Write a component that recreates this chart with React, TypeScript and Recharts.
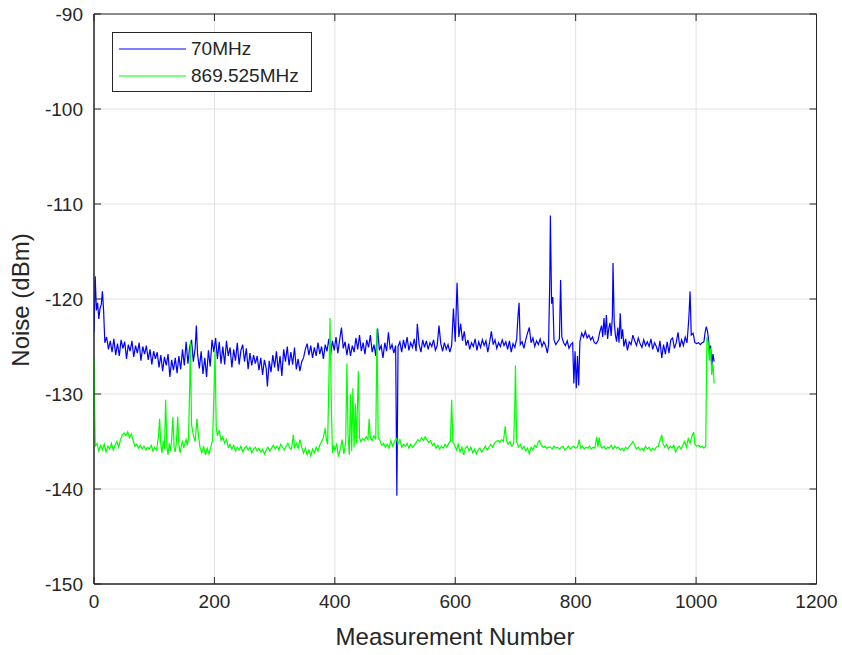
import React from 'react';
import { LineChart, Line, XAxis, YAxis, CartesianGrid, ReferenceArea } from 'recharts';

// [measurement number, noise dBm]
const noise70MHz: [number, number][] = [
  [0,-123.5],[2,-117.6],[4,-121.2],[6,-120.4],[8,-122.1],[10,-121.0],[12,-120.6],[14,-119.2],[16,-121.3],[18,-124.6],
  [21,-124.0],[24,-125.3],[27,-124.4],[30,-125.6],[33,-124.2],[36,-125.9],[39,-124.7],[42,-126.0],[45,-124.3],[48,-125.2],
  [51,-124.5],[54,-126.3],[57,-124.8],[60,-125.5],[63,-124.4],[66,-126.1],[69,-124.9],[72,-125.7],[75,-124.6],[78,-126.5],
  [81,-125.0],[84,-125.8],[87,-124.9],[90,-126.4],[93,-125.3],[96,-126.9],[99,-125.5],[102,-126.3],[105,-125.6],[108,-127.2],
  [111,-125.9],[114,-127.6],[117,-126.1],[120,-127.0],[123,-125.8],[126,-128.2],[129,-126.4],[132,-127.5],[135,-126.2],[138,-127.8],
  [141,-126.0],[144,-127.4],[147,-125.3],[150,-127.0],[153,-124.5],[156,-126.8],[159,-125.0],[162,-124.3],[165,-126.6],[168,-125.2],
  [170,-122.8],[172,-125.8],[175,-127.3],[178,-125.5],[181,-127.9],[184,-126.2],[187,-128.2],[190,-125.4],[193,-127.1],[196,-124.3],
  [199,-125.6],[202,-124.1],[205,-126.3],[208,-124.5],[211,-126.8],[214,-125.0],[217,-126.9],[220,-124.4],[223,-126.0],[226,-125.1],
  [229,-127.2],[232,-125.3],[235,-126.5],[238,-124.6],[241,-126.9],[244,-125.4],[247,-124.8],[250,-126.6],[253,-125.2],[256,-127.4],
  [259,-125.7],[262,-127.0],[265,-125.9],[268,-126.8],[271,-126.0],[274,-127.5],[277,-126.2],[280,-128.0],[283,-126.4],[286,-127.3],
  [288,-129.2],[291,-126.5],[294,-127.7],[297,-125.9],[300,-127.2],[303,-125.5],[306,-127.6],[309,-126.0],[312,-128.1],[315,-125.3],
  [318,-126.6],[321,-125.0],[324,-127.0],[327,-125.6],[330,-126.9],[333,-125.1],[336,-127.4],[339,-126.3],[342,-127.6],[345,-126.6],
  [348,-126.2],[351,-125.3],[354,-124.7],[357,-125.9],[360,-124.9],[363,-126.2],[366,-125.1],[369,-126.0],[372,-124.6],[375,-125.8],
  [378,-125.0],[381,-126.3],[384,-124.8],[387,-125.5],[390,-124.2],[393,-125.9],[396,-124.4],[399,-125.4],[402,-124.0],[405,-125.7],
  [408,-124.3],[411,-123.0],[414,-125.2],[417,-124.5],[420,-125.9],[423,-124.7],[426,-126.0],[429,-124.9],[432,-125.6],[435,-124.1],
  [438,-125.3],[441,-123.8],[444,-125.5],[447,-124.6],[450,-125.8],[453,-124.3],[456,-125.1],[459,-123.8],[462,-125.6],[465,-124.8],
  [468,-126.0],[471,-123.1],[474,-125.4],[477,-124.9],[480,-126.2],[483,-124.6],[486,-125.5],[489,-123.5],[492,-125.3],[495,-124.8],
  [498,-125.7],[501,-124.9],[503,-140.7],[505,-125.0],[508,-124.5],[511,-125.6],[514,-124.3],[517,-125.2],[520,-124.0],[523,-125.4],
  [526,-124.6],[529,-125.1],[532,-124.2],[535,-125.5],[537,-122.6],[540,-124.8],[543,-125.6],[546,-124.3],[549,-125.1],[552,-124.4],
  [555,-125.3],[558,-124.6],[561,-125.0],[564,-124.3],[567,-125.4],[570,-124.9],[573,-122.8],[576,-124.7],[579,-125.5],[582,-124.6],
  [585,-125.3],[588,-124.8],[591,-125.6],[594,-124.9],[597,-121.0],[600,-124.5],[603,-118.3],[606,-124.0],[609,-122.6],[612,-124.4],
  [615,-123.4],[618,-124.9],[621,-124.3],[624,-125.3],[627,-124.6],[630,-125.0],[633,-124.2],[636,-125.4],[639,-124.5],[642,-125.1],
  [645,-124.3],[648,-124.9],[651,-124.4],[654,-125.6],[657,-124.6],[660,-123.4],[663,-124.8],[666,-124.3],[669,-125.2],[672,-124.6],
  [675,-125.0],[678,-124.3],[681,-124.9],[684,-124.5],[687,-125.3],[690,-124.4],[693,-125.6],[696,-124.7],[699,-125.1],[702,-124.2],
  [704,-122.0],[706,-120.4],[708,-124.8],[711,-124.5],[714,-125.2],[717,-124.3],[720,-123.6],[723,-123.0],[726,-124.6],[729,-124.1],
  [732,-125.0],[735,-124.4],[738,-124.8],[741,-124.2],[744,-125.0],[747,-124.5],[750,-124.9],[753,-125.7],[755,-124.8],[757,-118.0],
  [758,-111.2],[760,-120.5],[762,-119.8],[764,-124.3],[767,-124.8],[770,-124.5],[773,-124.2],[775,-118.0],[777,-124.0],[780,-124.6],
  [783,-124.9],[786,-124.4],[789,-125.2],[792,-124.8],[795,-124.6],[797,-128.9],[799,-125.5],[801,-129.4],[803,-126.0],[805,-129.1],
  [807,-124.5],[810,-123.6],[813,-124.0],[816,-123.4],[819,-124.1],[822,-123.8],[825,-124.3],[828,-124.0],[831,-124.6],[834,-124.7],
  [837,-124.4],[840,-123.5],[843,-122.8],[845,-124.0],[847,-122.0],[849,-123.8],[851,-121.7],[853,-124.2],[855,-123.1],[857,-122.5],
  [859,-123.9],[861,-121.8],[862,-116.2],[864,-122.4],[866,-123.8],[868,-124.5],[870,-123.0],[872,-124.6],[874,-121.5],[876,-124.2],
  [878,-123.2],[880,-125.0],[883,-124.2],[886,-125.4],[889,-124.5],[892,-124.8],[895,-123.8],[898,-124.4],[901,-124.9],[904,-124.1],
  [907,-124.7],[910,-125.1],[913,-124.3],[916,-124.9],[919,-124.5],[922,-125.0],[925,-124.2],[928,-125.3],[931,-124.6],[934,-125.0],
  [937,-125.6],[940,-124.4],[943,-126.2],[946,-124.8],[949,-125.8],[952,-124.5],[955,-125.7],[958,-124.3],[961,-124.1],[964,-125.2],
  [967,-124.6],[970,-123.5],[973,-125.1],[976,-124.3],[979,-124.9],[982,-124.0],[985,-124.6],[988,-122.0],[990,-119.2],[992,-123.8],
  [995,-123.6],[998,-124.6],[1001,-124.7],[1004,-124.6],[1007,-124.8],[1010,-124.6],[1013,-124.5],[1015,-123.5],[1017,-122.9],[1019,-123.4],
  [1021,-124.4],[1022,-125.8],[1024,-124.9],[1026,-127.0],[1028,-125.8],[1030,-126.6],
];

const noise869MHz: [number, number][] = [
  [0,-126.1],[2,-135.5],[5,-135.2],[8,-136.0],[11,-135.4],[14,-135.9],[17,-135.3],[20,-136.1],[23,-135.5],[26,-135.8],
  [29,-135.2],[32,-135.9],[35,-135.4],[38,-135.0],[41,-135.6],[44,-134.8],[47,-134.3],[50,-134.1],[53,-134.4],[56,-134.0],
  [59,-134.6],[62,-134.2],[65,-134.9],[68,-135.5],[71,-135.3],[74,-135.7],[77,-135.4],[80,-135.8],[83,-135.5],[86,-135.9],
  [89,-135.6],[92,-135.8],[95,-135.4],[98,-136.0],[101,-135.6],[104,-135.9],[107,-134.5],[109,-132.6],[111,-135.4],[113,-136.2],
  [115,-134.9],[117,-135.8],[119,-130.6],[121,-135.5],[123,-136.4],[125,-135.2],[127,-136.0],[129,-134.8],[131,-132.4],[133,-135.6],
  [135,-136.1],[137,-135.0],[139,-132.4],[141,-135.3],[143,-136.2],[145,-135.5],[147,-134.9],[149,-135.7],[151,-135.2],[153,-134.8],
  [155,-135.4],[157,-134.6],[159,-129.0],[160,-124.5],[162,-133.2],[164,-134.0],[166,-134.6],[168,-135.0],[171,-132.6],[173,-134.1],
  [176,-135.6],[179,-136.2],[182,-135.5],[185,-136.4],[188,-135.7],[191,-136.3],[194,-135.6],[197,-134.8],[199,-130.5],[201,-125.4],
  [203,-133.5],[205,-134.4],[208,-133.8],[211,-134.9],[214,-134.5],[217,-135.2],[220,-134.8],[223,-135.6],[226,-135.3],[229,-135.8],
  [232,-135.4],[235,-136.0],[238,-135.6],[241,-135.9],[244,-135.5],[247,-136.1],[250,-135.7],[253,-135.5],[256,-135.9],[259,-135.6],
  [262,-136.2],[265,-135.8],[268,-135.6],[271,-136.0],[274,-135.7],[277,-136.1],[280,-135.8],[283,-136.3],[286,-135.9],[289,-135.6],
  [292,-136.0],[295,-135.7],[298,-135.4],[301,-135.8],[304,-135.5],[307,-135.9],[310,-135.3],[313,-135.6],[316,-135.9],[319,-135.5],
  [322,-135.2],[325,-135.7],[328,-135.8],[331,-134.3],[333,-135.6],[336,-135.2],[339,-135.7],[342,-134.8],[345,-135.6],[348,-136.2],
  [351,-135.7],[354,-136.4],[357,-135.9],[360,-136.5],[363,-135.8],[366,-136.2],[369,-135.6],[372,-136.0],[375,-135.4],[378,-135.0],
  [381,-134.6],[384,-133.6],[386,-134.8],[388,-135.3],[390,-129.0],[392,-122.0],[394,-130.5],[396,-136.2],[398,-135.4],[400,-136.0],
  [403,-135.2],[406,-136.6],[409,-135.8],[412,-134.8],[415,-136.3],[418,-135.1],[420,-126.8],[422,-134.5],[424,-136.4],[426,-130.0],
  [428,-136.0],[430,-129.4],[432,-135.6],[434,-131.0],[436,-135.2],[439,-127.6],[441,-134.6],[443,-135.0],[446,-134.7],[449,-134.9],
  [452,-134.5],[455,-134.8],[457,-132.6],[459,-134.6],[462,-134.9],[465,-134.4],[468,-134.8],[470,-123.1],[472,-134.6],[475,-134.9],
  [478,-135.4],[481,-135.2],[484,-135.6],[487,-135.3],[490,-135.7],[493,-134.9],[496,-135.5],[499,-135.0],[502,-134.7],[505,-135.2],
  [508,-134.8],[511,-135.6],[514,-135.3],[517,-135.5],[520,-135.2],[523,-135.7],[526,-135.3],[529,-135.6],[532,-135.4],[535,-135.1],
  [538,-134.8],[541,-135.0],[544,-134.6],[547,-134.9],[550,-134.5],[553,-134.8],[556,-135.1],[559,-134.9],[562,-135.4],[565,-135.2],
  [568,-135.7],[571,-135.4],[574,-135.8],[577,-135.5],[580,-135.7],[583,-135.3],[586,-135.6],[589,-135.2],[592,-135.0],[594,-130.6],
  [596,-135.0],[599,-135.4],[602,-135.9],[605,-135.3],[608,-136.1],[611,-135.6],[614,-136.4],[617,-135.7],[620,-135.5],[623,-136.0],
  [626,-135.6],[629,-136.2],[632,-135.8],[635,-136.3],[638,-135.9],[641,-135.7],[644,-136.1],[647,-135.8],[650,-135.5],[653,-135.9],
  [656,-135.6],[659,-135.3],[662,-135.6],[665,-135.2],[668,-135.0],[671,-134.9],[674,-135.1],[677,-134.8],[680,-135.0],[683,-133.4],
  [685,-134.9],[688,-135.3],[691,-135.0],[694,-135.5],[697,-135.2],[699,-131.0],[700,-127.0],[702,-135.0],[705,-135.6],[708,-135.3],
  [711,-135.8],[714,-135.5],[717,-136.0],[720,-135.7],[723,-136.3],[726,-135.6],[729,-135.9],[732,-135.4],[735,-135.6],[738,-135.0],
  [740,-134.9],[743,-135.4],[746,-135.6],[749,-135.5],[752,-135.7],[755,-135.6],[758,-135.6],[761,-135.8],[764,-135.5],[767,-135.7],
  [770,-135.6],[773,-135.8],[776,-135.6],[779,-135.5],[782,-135.9],[785,-135.7],[788,-135.5],[791,-135.8],[794,-135.6],[797,-135.5],
  [800,-135.7],[803,-135.6],[806,-134.8],[808,-135.7],[811,-135.5],[814,-135.8],[817,-135.6],[820,-135.7],[823,-135.5],[826,-135.8],
  [829,-135.6],[832,-135.7],[835,-134.5],[837,-135.6],[839,-134.6],[841,-135.4],[844,-135.7],[847,-135.5],[850,-135.8],[853,-135.6],
  [856,-135.7],[859,-135.4],[862,-135.8],[865,-135.5],[868,-135.7],[871,-135.6],[874,-135.9],[877,-135.7],[880,-136.0],[883,-135.6],
  [886,-135.8],[889,-135.5],[892,-135.3],[895,-135.0],[898,-135.4],[901,-135.8],[904,-135.6],[907,-135.9],[910,-135.7],[913,-136.0],
  [916,-135.5],[919,-135.8],[922,-135.6],[925,-136.0],[928,-135.7],[931,-135.9],[934,-135.6],[937,-135.5],[940,-134.9],[943,-134.3],
  [945,-135.2],[948,-135.6],[951,-135.3],[954,-135.8],[957,-135.5],[960,-135.7],[963,-135.4],[966,-136.1],[969,-135.7],[972,-135.5],
  [975,-135.8],[978,-135.4],[981,-135.0],[984,-135.6],[987,-134.7],[990,-135.2],[993,-134.5],[996,-134.0],[998,-135.3],[1001,-135.5],
  [1004,-135.4],[1007,-135.6],[1010,-135.5],[1013,-135.7],[1016,-135.5],[1018,-124.0],[1020,-124.5],[1022,-126.5],[1024,-125.2],[1026,-128.0],
  [1028,-126.8],[1030,-128.9],
];

const xTicks = [0, 200, 400, 600, 800, 1000, 1200];
const yTicks = [-150, -140, -130, -120, -110, -100, -90];
const seriesNames = ['70MHz', '869.525MHz'];
const seriesColors = ['#0000ff', '#00ff00'];

const blueData = noise70MHz.map(([n, v]) => ({ n, v }));
const greenData = noise869MHz.map(([n, v]) => ({ n, v }));

const FONT = 'Liberation Sans, Arial, sans-serif';
const AXIS = '#262626';
const PLOT_LEFT = 94;
const PLOT_RIGHT = 816.5;
const PLOT_TOP = 14;
const PLOT_BOTTOM = 584;
const TICK_LEN = 7;

const XTick = (props: any) => {
  const { x, payload } = props;
  return (
    <g>
      <line x1={x} y1={PLOT_BOTTOM} x2={x} y2={PLOT_BOTTOM - TICK_LEN} stroke={AXIS} strokeWidth={1} />
      <line x1={x} y1={PLOT_TOP} x2={x} y2={PLOT_TOP + TICK_LEN} stroke={AXIS} strokeWidth={1} />
      <text x={x} y={PLOT_BOTTOM + 24} textAnchor="middle" fontFamily={FONT} fontSize={19} fill={AXIS}>
        {payload.value}
      </text>
    </g>
  );
};

const YTick = (props: any) => {
  const { y, payload } = props;
  return (
    <g>
      <line x1={PLOT_LEFT} y1={y} x2={PLOT_LEFT + TICK_LEN} y2={y} stroke={AXIS} strokeWidth={1} />
      <line x1={PLOT_RIGHT} y1={y} x2={PLOT_RIGHT - TICK_LEN} y2={y} stroke={AXIS} strokeWidth={1} />
      <text x={PLOT_LEFT - 11} y={y + 7} textAnchor="end" fontFamily={FONT} fontSize={19} fill={AXIS}>
        {payload.value}
      </text>
    </g>
  );
};

const LegendBox = () => (
  <div
    style={{
      position: 'absolute',
      left: 112,
      top: 32,
      width: 198,
      height: 58,
      border: `1px solid ${AXIS}`,
      background: '#fff',
      fontFamily: FONT,
      fontSize: 19,
      color: AXIS,
    }}
  >
    {seriesNames.map((name, i) => (
      <div key={name} style={{ display: 'flex', alignItems: 'center', height: 27, marginTop: i === 0 ? 2 : 0 }}>
        <svg width={72} height={10} style={{ marginLeft: 6 }}>
          <line x1={0} y1={5} x2={67} y2={5} stroke={seriesColors[i]} strokeWidth={1.2} />
        </svg>
        <span>{name}</span>
      </div>
    ))}
  </div>
);

export default function App() {
  return (
    <div style={{ position: 'absolute', left: 0, top: 0, width: 842, height: 655, background: '#fff' }}>
      <LineChart
        width={842}
        height={655}
        margin={{ top: PLOT_TOP, right: 842 - PLOT_RIGHT, left: PLOT_LEFT - 60, bottom: 655 - PLOT_BOTTOM - 50 }}
      >
        <CartesianGrid stroke="#e2e2e2" strokeWidth={1} />
        <XAxis
          dataKey="n"
          type="number"
          domain={[0, 1200]}
          ticks={xTicks}
          allowDataOverflow
          height={50}
          tickLine={false}
          tickSize={0}
          axisLine={{ stroke: AXIS }}
          tick={<XTick />}
          interval={0}
          label={{
            content: () => (
              <text x={455} y={645} textAnchor="middle" fontFamily={FONT} fontSize={24} fill={AXIS}>
                Measurement Number
              </text>
            ),
          }}
        />
        <YAxis
          dataKey="v"
          type="number"
          domain={[-150, -90]}
          ticks={yTicks}
          allowDataOverflow
          width={60}
          tickLine={false}
          tickSize={0}
          axisLine={{ stroke: AXIS }}
          tick={<YTick />}
          interval={0}
          label={{
            content: () => (
              <text
                x={29}
                y={300}
                transform="rotate(-90 29 300)"
                textAnchor="middle"
                fontFamily={FONT}
                fontSize={24}
                fill={AXIS}
              >
                Noise (dBm)
              </text>
            ),
          }}
        />
        <ReferenceArea x1={0} x2={1200} y1={-150} y2={-90} fill="none" stroke={AXIS} strokeWidth={1} ifOverflow="visible" />
        <Line
          data={blueData}
          dataKey="v"
          name={seriesNames[0]}
          stroke={seriesColors[0]}
          strokeWidth={1.2}
          dot={false}
          activeDot={false}
          isAnimationActive={false}
          type="linear"
        />
        <Line
          data={greenData}
          dataKey="v"
          name={seriesNames[1]}
          stroke={seriesColors[1]}
          strokeWidth={1.2}
          dot={false}
          activeDot={false}
          isAnimationActive={false}
          type="linear"
        />
      </LineChart>
      <LegendBox />
    </div>
  );
}
